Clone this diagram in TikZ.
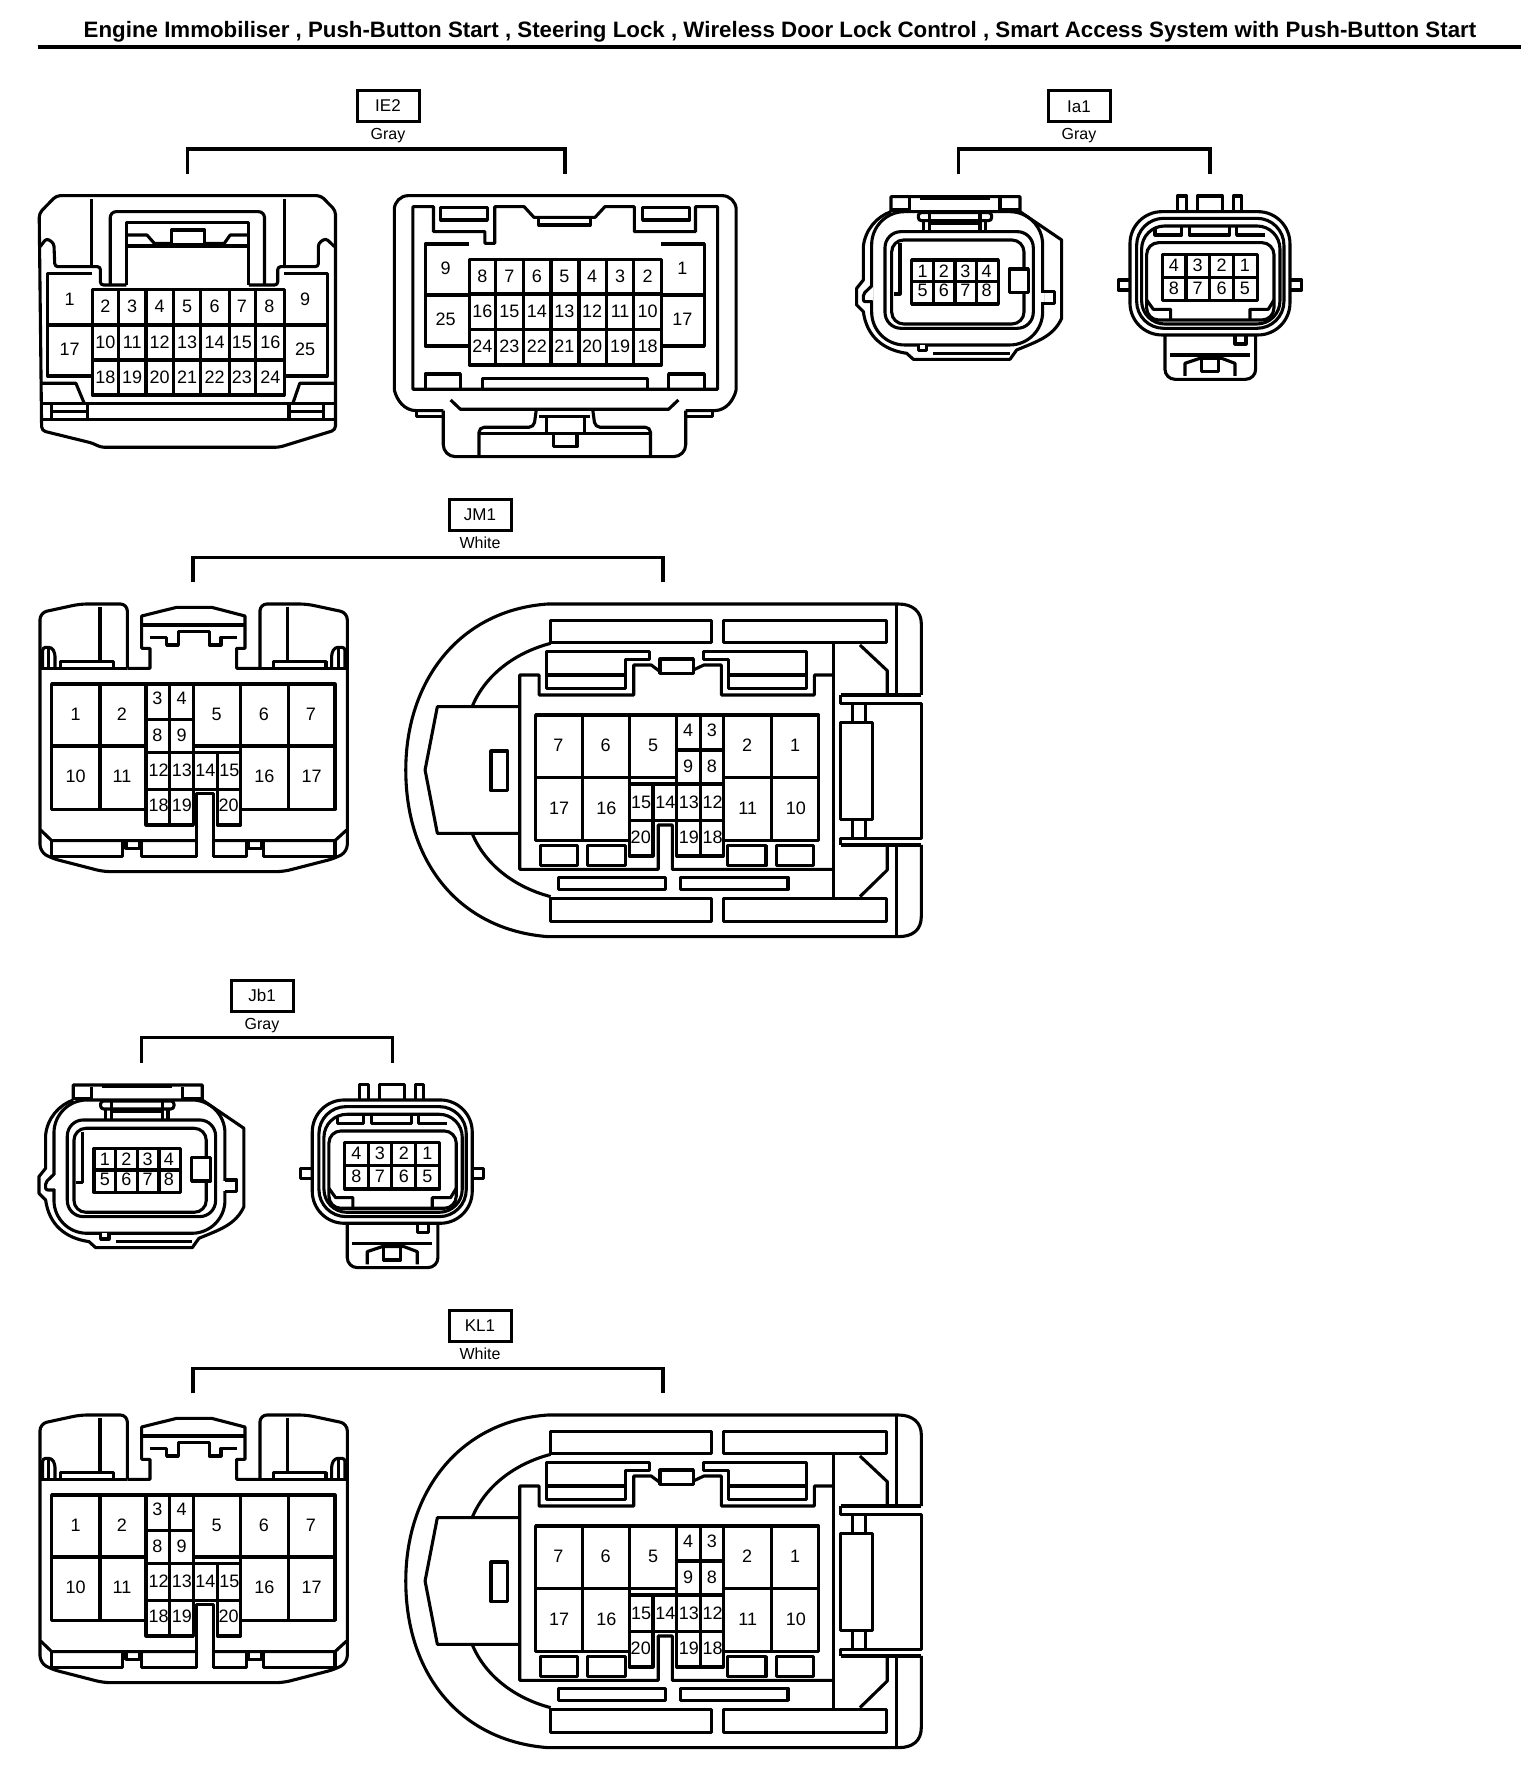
\documentclass[tikz,border=0pt]{standalone}
\usepackage{fontspec}
\setmainfont{Liberation Sans}
\usetikzlibrary{positioning}

\tikzset{
  pin/.style={font=\fontsize{18}{18}\selectfont,inner sep=0pt},
  tagbox/.style={draw,line width=3pt,minimum width=62pt,minimum height=31pt,inner sep=0pt,font=\fontsize{17}{17}\selectfont},
  tagcolor/.style={inner sep=0pt,font=\fontsize{16}{16}\selectfont},
  bracket/.style={draw,line width=3.2pt,line cap=butt},
  part/.style={draw,line width=3.1pt,line join=round},
  wide/.style={x=.4898pt,y=-.3333pt},
  narrow/.style={x=.3333pt,y=-.3333pt},
  mid/.style={x=.3507pt,y=-.3333pt},
  pics/iefront/.style={code={
    \begin{scope}[wide]
      \draw[part,rounded corners=4pt] (80,640) -- (115,587) -- (655,587) -- (685,632) -- (685,1290) -- (570,1342) -- (205,1342) -- (190,1330) -- (85,1292) -- cycle;
      \draw[part] (187,597) -- (187,800);
      \draw[part] (580,597) -- (580,800);
      \draw[part,rounded corners=3pt] (82,740) -- (95,715) -- (110,730) -- (112,800) -- (205,800) -- (205,855) -- (258,855);
      \draw[part,rounded corners=3pt] (683,740) -- (665,715) -- (650,730) -- (650,800) -- (567,800) -- (567,855) -- (508,855);
      \draw[part,rounded corners=6pt] (225,855) -- (225,635) -- (540,635) -- (540,855);
      \draw[part] (258,855) -- (258,667) -- (508,667) -- (508,855);
      \draw[part] (258,738) -- (508,738);
      \draw[part] (258,705) -- (300,705) -- (315,730) -- (350,730);
      \draw[part] (418,730) -- (458,730) -- (470,705) -- (508,705);
      \draw[part] (350,690) rectangle (418,735);
      % contact block
      \draw[part] (188,868) rectangle (580,1185);
      \draw[part] (188,975) -- (580,975);
      \draw[part] (188,1080) -- (580,1080);
      \draw[part] (242,868) -- (242,1185);
      \draw[part] (298,868) -- (298,1185);
      \draw[part] (354,868) -- (354,1185);
      \draw[part] (410,868) -- (410,1185);
      \draw[part] (468,868) -- (468,1185);
      \draw[part] (522,868) -- (522,1185);
      \draw[part] (188,820) -- (97,820) -- (97,1128) -- (188,1128);
      \draw[part] (580,820) -- (668,820) -- (668,1128) -- (580,1128);
      \draw[part] (97,975) -- (188,975);
      \draw[part] (580,975) -- (668,975);
      \draw[part] (85,1150) -- (155,1150) -- (172,1210);
      \draw[part] (685,1150) -- (612,1150) -- (598,1210);
      \draw[part] (82,1210) -- (685,1210);
      \draw[part] (82,1258) -- (685,1258);
      \draw[part] (105,1210) -- (105,1258);
      \draw[part] (178,1210) -- (178,1258);
      \draw[part] (105,1235) -- (178,1235);
      \draw[part] (590,1210) -- (590,1258);
      \draw[part] (660,1210) -- (660,1258);
      \draw[part] (590,1235) -- (660,1235);
      \node[pin] (p1) at (142,897) {1};
      \node[pin] (p17) at (142,1047) {17};
      \node[pin] (p9) at (623,897) {9};
      \node[pin] (p25) at (623,1047) {25};
      \node[pin] (p2) at (215,918) {2}; \node[pin] (p3) at (270,918) {3}; \node[pin] (p4) at (326,918) {4}; \node[pin] (p5) at (382,918) {5}; \node[pin] (p6) at (438,918) {6}; \node[pin] (p7) at (494,918) {7}; \node[pin] (p8) at (550,918) {8};
      \node[pin] (p10) at (215,1027) {10}; \node[pin] (p11) at (270,1027) {11}; \node[pin] (p12) at (326,1027) {12}; \node[pin] (p13) at (382,1027) {13}; \node[pin] (p14) at (438,1027) {14}; \node[pin] (p15) at (494,1027) {15}; \node[pin] (p16) at (552,1027) {16};
      \node[pin] (p18) at (215,1132) {18}; \node[pin] (p19) at (270,1132) {19}; \node[pin] (p20) at (326,1132) {20}; \node[pin] (p21) at (382,1132) {21}; \node[pin] (p22) at (438,1132) {22}; \node[pin] (p23) at (494,1132) {23}; \node[pin] (p24) at (552,1132) {24};
    \end{scope}
  }},
  pics/ieback/.style={code={
    \begin{scope}[wide]
      \draw[part,rounded corners=14pt] (805,1170) -- (805,587) -- (1503,587) -- (1503,1170);
      \draw[part] (805,1170) .. controls (810,1200) and (825,1232) .. (850,1232) -- (905,1232);
      \draw[part] (1503,1170) .. controls (1498,1200) and (1483,1232) .. (1458,1232) -- (1400,1232);
      \draw[part] (850,1232) -- (850,1250) -- (905,1250);
      \draw[part] (1455,1232) -- (1455,1250) -- (1400,1250);
      \draw[part,rounded corners=12pt] (905,1232) -- (905,1370) -- (1400,1370) -- (1400,1232);
      \draw[part] (843,1168) -- (843,620) -- (885,620) -- (885,695) -- (990,695) -- (990,730) -- (1010,730) -- (1010,620) -- (1070,620) -- (1090,652) -- (1215,652) -- (1235,620) -- (1295,620) -- (1295,695) -- (1420,695) -- (1420,620) -- (1465,620) -- (1465,1168) -- cycle;
      \draw[part] (900,622) rectangle (995,660);
      \draw[part] (1312,622) rectangle (1408,660);
      \draw[part] (1100,652) -- (1100,675) -- (1205,675) -- (1205,652);
      % contact block
      \draw[part] (958,778) rectangle (1350,1095);
      \draw[part] (958,882) -- (1350,882);
      \draw[part] (958,988) -- (1350,988);
      \draw[part] (1012,778) -- (1012,1095);
      \draw[part] (1068,778) -- (1068,1095);
      \draw[part] (1125,778) -- (1125,1095);
      \draw[part] (1182,778) -- (1182,1095);
      \draw[part] (1238,778) -- (1238,1095);
      \draw[part] (1294,778) -- (1294,1095);
      \draw[part] (958,732) -- (868,732) -- (868,1038) -- (958,1038);
      \draw[part] (1350,732) -- (1438,732) -- (1438,1038) -- (1350,1038);
      \draw[part] (868,885) -- (958,885);
      \draw[part] (1350,885) -- (1438,885);
      \draw[part] (868,1168) -- (868,1122) -- (940,1122) -- (940,1168);
      \draw[part] (1365,1168) -- (1365,1122) -- (1438,1122) -- (1438,1168);
      \draw[part] (985,1168) -- (985,1135) -- (1322,1135) -- (1322,1168);
      \draw[part] (920,1200) -- (940,1228) -- (1365,1228) -- (1385,1200);
      \draw[part,rounded corners=5pt] (1095,1228) -- (1090,1282) -- (978,1282) -- (978,1370);
      \draw[part,rounded corners=5pt] (1210,1228) -- (1215,1282) -- (1328,1282) -- (1328,1370);
      \draw[part] (978,1300) -- (1328,1300);
      \draw[part] (1100,1250) -- (1205,1250);
      \draw[part] (1115,1250) -- (1115,1300);
      \draw[part] (1193,1250) -- (1193,1300);
      \draw[part] (1130,1300) -- (1130,1340) -- (1178,1340) -- (1178,1300);
      \node[pin] (p9) at (910,805) {9};
      \node[pin] (p25) at (910,958) {25};
      \node[pin] (p1) at (1393,805) {1};
      \node[pin] (p17) at (1393,958) {17};
      \node[pin] (p8) at (985,828) {8}; \node[pin] (p7) at (1040,828) {7}; \node[pin] (p6) at (1096,828) {6}; \node[pin] (p5) at (1152,828) {5}; \node[pin] (p4) at (1209,828) {4}; \node[pin] (p3) at (1266,828) {3}; \node[pin] (p2) at (1322,828) {2};
      \node[pin] (p16) at (985,935) {16}; \node[pin] (p15) at (1040,935) {15}; \node[pin] (p14) at (1096,935) {14}; \node[pin] (p13) at (1152,935) {13}; \node[pin] (p12) at (1209,935) {12}; \node[pin] (p11) at (1266,935) {11}; \node[pin] (p10) at (1322,935) {10};
      \node[pin] (p24) at (985,1040) {24}; \node[pin] (p23) at (1040,1040) {23}; \node[pin] (p22) at (1096,1040) {22}; \node[pin] (p21) at (1152,1040) {21}; \node[pin] (p20) at (1209,1040) {20}; \node[pin] (p19) at (1266,1040) {19}; \node[pin] (p18) at (1322,1040) {18};
    \end{scope}
  }},
  pics/smallfront/.style={code={
    \begin{scope}[narrow]
      \draw[part] (213,425) -- (213,380) -- (600,380) -- (600,425) -- (725,510) -- (725,745) .. controls (700,800) and (650,815) .. (590,840) -- (570,868) -- (280,868) -- (260,850) .. controls (190,840) and (140,800) .. (130,725) -- (110,705) -- (110,655) -- (130,630) -- (130,530) .. controls (135,480) and (170,440) .. (213,425);
      \draw[part] (213,420) -- (268,420) -- (268,385);
      \draw[part] (600,420) -- (540,420) -- (540,385);
      \draw[line width=4pt] (300,384) -- (510,384);
      \draw[part,rounded corners=33pt] (155,425) rectangle (668,825);
      \draw[white,line width=3.4pt] (155,650) -- (155,692);
      \draw[white,line width=3.4pt] (668,668) -- (668,697);
      \draw[part,rounded corners=2pt] (155,648) -- (130,672) -- (130,695) -- (158,695);
      \draw[part] (668,665) -- (703,665) -- (703,700) -- (668,700);
      \draw[part,fill=white] (295,825) -- (295,842) -- (320,842) -- (320,825);
      \draw[part] (340,850) -- (570,850);
      \draw[part,fill=white,rounded corners=3pt] (295,452) -- (295,428) -- (515,428) -- (515,452) -- cycle;
      \draw[part] (310,452) -- (310,485);
      \draw[part] (328,428) -- (328,485);
      \draw[part] (480,428) -- (480,485);
      \draw[part] (497,452) -- (497,485);
      \draw[part] (328,460) -- (480,460);
      \draw[part,fill=white,rounded corners=16pt] (195,485) rectangle (640,775);
      \draw[part,rounded corners=12pt] (215,510) rectangle (612,762);
      \draw[part] (240,520) -- (240,672) -- (222,672);
      \draw[part,fill=white] (612,597) -- (568,597) -- (568,668) -- (625,668) -- (625,597) -- cycle;
      \draw[part] (275,570) rectangle (535,702);
      \draw[part] (275,635) -- (535,635);
      \draw[part] (340,570) -- (340,702);
      \draw[part] (405,570) -- (405,702);
      \draw[part] (470,570) -- (470,702);
      \node[pin] (p1) at (308,603) {1}; \node[pin] (p2) at (372,603) {2}; \node[pin] (p3) at (436,603) {3}; \node[pin] (p4) at (500,603) {4};
      \node[pin] (p5) at (308,662) {5}; \node[pin] (p6) at (372,662) {6}; \node[pin] (p7) at (436,662) {7}; \node[pin] (p8) at (500,662) {8};
    \end{scope}
  }},
  pics/smallback/.style={code={
    \begin{scope}[narrow]
      \draw[part] (1072,425) -- (1072,378) -- (1100,378) -- (1100,425);
      \draw[part] (1132,425) -- (1132,378) -- (1207,378) -- (1207,425);
      \draw[part] (1240,425) -- (1240,378) -- (1265,378) -- (1265,425);
      \draw[part] (930,630) -- (895,630) -- (895,660) -- (930,660);
      \draw[part] (1410,630) -- (1445,630) -- (1445,660) -- (1410,660);
      \draw[part,rounded corners=10pt] (1035,795) -- (1035,928) -- (1307,928) -- (1307,795);
      \draw[part] (1050,855) -- (1290,855);
      \draw[part] (1245,795) -- (1245,822) -- (1278,822) -- (1278,795);
      \draw[part] (1095,918) -- (1095,880) -- (1140,865) -- (1205,865) -- (1245,880) -- (1245,918);
      \draw[part] (1145,868) -- (1145,905) -- (1195,905) -- (1195,868);
      \draw[part,fill=white,rounded corners=32pt] (930,425) rectangle (1410,795);
      \draw[part,rounded corners=27pt] (950,445) rectangle (1392,775);
      \draw[part,rounded corners=23pt] (965,468) rectangle (1380,762);
      \draw[part] (1005,472) -- (1005,495) -- (1085,495) -- (1085,470);
      \draw[part] (1108,470) -- (1108,495) -- (1228,495) -- (1228,470);
      \draw[part] (1250,470) -- (1250,495) -- (1335,495);
      \draw[part,rounded corners=12pt] (980,518) rectangle (1362,750);
      \draw[part] (980,690) -- (1000,718) -- (1052,718) -- (1052,750);
      \draw[part] (1362,690) -- (1345,718) -- (1290,718) -- (1290,750);
      \draw[part] (1028,553) rectangle (1312,692);
      \draw[part] (1028,622) -- (1312,622);
      \draw[part] (1098,553) -- (1098,692);
      \draw[part] (1168,553) -- (1168,692);
      \draw[part] (1240,553) -- (1240,692);
      \node[pin] (p4) at (1062,585) {4}; \node[pin] (p3) at (1133,585) {3}; \node[pin] (p2) at (1205,585) {2}; \node[pin] (p1) at (1275,585) {1};
      \node[pin] (p8) at (1062,655) {8}; \node[pin] (p7) at (1133,655) {7}; \node[pin] (p6) at (1205,655) {6}; \node[pin] (p5) at (1275,655) {5};
    \end{scope}
  }},
  pics/bigfront/.style={code={
    \begin{scope}[narrow]
      \draw[part,rounded corners=7pt] (322,535) -- (322,342) -- (180,342) -- (60,368) -- (60,1085) -- (95,1105) -- (250,1145) -- (790,1145) -- (945,1105) -- (982,1085) -- (982,368) -- (860,342) -- (720,342) -- (720,535);
      \draw[part] (322,535) -- (390,535) -- (390,475) -- (365,475) -- (365,378) -- (470,352) -- (575,352) -- (675,378) -- (675,475) -- (650,475) -- (650,535) -- (720,535);
      \draw[part] (365,405) -- (675,405);
      \draw[part] (390,442) -- (440,442) -- (440,465) -- (475,465) -- (475,425) -- (568,425) -- (568,465) -- (603,465) -- (603,442) -- (652,442);
      \draw[part] (240,350) -- (240,515);
      \draw[part] (803,350) -- (803,515);
      \draw[part] (60,535) -- (322,535);
      \draw[part] (720,535) -- (982,535);
      \draw[part,rounded corners=3pt] (68,535) -- (68,472) -- (95,472) -- (105,490) -- (105,535);
      \draw[part] (85,475) -- (85,535);
      \draw[part,rounded corners=3pt] (975,535) -- (975,472) -- (945,472) -- (935,490) -- (935,535);
      \draw[part] (955,475) -- (955,535);
      \draw[part] (122,535) -- (122,515) -- (280,515) -- (280,535);
      \draw[part] (760,535) -- (760,515) -- (918,515) -- (918,535);
      % contact block
      \draw[part] (378,768) -- (95,768) -- (95,582) -- (945,582) -- (945,958) -- (662,958);
      \draw[part] (378,958) -- (95,958) -- (95,768);
      \draw[part] (240,582) -- (240,958);
      \draw[part] (378,582) -- (378,1005) -- (520,1005) -- (520,788);
      \draw[part] (448,582) -- (448,1005);
      \draw[part] (520,582) -- (520,788);
      \draw[part] (378,688) -- (520,688);
      \draw[part] (378,788) -- (662,788);
      \draw[part] (378,898) -- (662,898);
      \draw[part] (662,582) -- (662,1005) -- (592,1005) -- (592,788);
      \draw[part] (520,768) -- (945,768);
      \draw[part] (805,582) -- (805,958);
      \draw[part] (530,1100) -- (530,910) -- (580,910) -- (580,1100);
      \draw[part] (62,1020) -- (95,1052) -- (530,1052);
      \draw[part] (580,1052) -- (945,1052) -- (980,1020);
      \draw[part] (95,1052) -- (95,1100) -- (308,1100) -- (308,1052);
      \draw[part] (365,1052) -- (365,1100) -- (530,1100);
      \draw[part] (580,1100) -- (680,1100) -- (680,1052);
      \draw[part] (730,1052) -- (730,1100) -- (945,1100) -- (945,1052);
      \draw[part] (318,1052) -- (318,1075) -- (358,1075) -- (358,1052);
      \draw[part] (685,1052) -- (685,1075) -- (725,1075) -- (725,1052);
      \node[pin] (p1) at (167,672) {1}; \node[pin] (p2) at (306,672) {2}; \node[pin] (p5) at (590,672) {5}; \node[pin] (p6) at (732,672) {6}; \node[pin] (p7) at (873,672) {7};
      \node[pin] (p3) at (412,625) {3}; \node[pin] (p4) at (485,625) {4};
      \node[pin] (p8) at (412,735) {8}; \node[pin] (p9) at (485,735) {9};
      \node[pin] (p10) at (167,858) {10}; \node[pin] (p11) at (306,858) {11}; \node[pin] (p16) at (733,858) {16}; \node[pin] (p17) at (875,858) {17};
      \node[pin] (p12) at (416,842) {12}; \node[pin] (p13) at (486,842) {13}; \node[pin] (p14) at (556,842) {14}; \node[pin] (p15) at (628,842) {15};
      \node[pin] (p18) at (416,947) {18}; \node[pin] (p19) at (486,947) {19}; \node[pin] (p20) at (626,947) {20};
    \end{scope}
  }},
  pics/bigback/.style={code={
    \begin{scope}[mid]
      \draw[part] (1515,345) -- (1515,130) .. controls (1515,95) and (1490,72) .. (1450,72) -- (450,72) .. controls (200,90) and (45,300) .. (45,570) .. controls (45,850) and (200,1050) .. (450,1070) -- (1450,1070) .. controls (1490,1070) and (1515,1050) .. (1515,1010) -- (1515,795);
      \draw[part] (1285,345) -- (1515,345);
      \draw[part] (1285,795) -- (1515,795);
      \draw[part] (1285,345) -- (1285,370) -- (1515,370) -- (1515,775) -- (1285,775) -- (1285,795);
      \draw[part] (1445,72) -- (1445,345);
      \draw[part] (1445,795) -- (1445,1070);
      \draw[part] (458,190) .. controls (350,220) and (270,290) .. (235,378);
      \draw[part] (235,762) .. controls (270,850) and (350,920) .. (458,950);
      \draw[part] (365,380) -- (135,380) -- (100,570) -- (135,760) -- (365,760);
      \draw[part] (288,513) rectangle (335,632);
      \draw[part] (458,122) rectangle (918,187);
      \draw[part] (950,122) rectangle (1415,187);
      \draw[part] (458,955) rectangle (918,1025);
      \draw[part] (950,955) rectangle (1415,1025);
      \draw[part] (1265,285) -- (1210,285) -- (1210,345) -- (945,345) -- (945,255) -- (895,255) -- (865,270);
      \draw[part] (770,275) -- (745,255) -- (695,255) -- (695,345) -- (425,345) -- (425,285) -- (370,285) -- (370,868) -- (765,868) -- (765,735) -- (805,735) -- (805,868) -- (1265,868);
      \draw[part] (770,237) rectangle (865,280);
      \draw[part] (445,215) -- (740,215) -- (740,238) -- (672,238) -- (672,325) -- (445,325) -- cycle;
      \draw[part] (445,285) -- (672,285);
      \draw[part] (893,215) -- (1188,215) -- (1188,325) -- (965,325) -- (965,238) -- (893,238) -- cycle;
      \draw[part] (965,285) -- (1188,285);
      \draw[part] (1265,190) -- (1265,950);
      \draw[part] (1340,195) -- (1418,272) -- (1418,345);
      \draw[part] (1340,950) -- (1418,870) -- (1418,795);
      \draw[part] (1285,428) rectangle (1375,718);
      \draw[part] (1320,370) -- (1320,428);
      \draw[part] (1355,370) -- (1355,428);
      \draw[part] (1320,718) -- (1320,775);
      \draw[part] (1355,718) -- (1355,775);
      % contact block
      \draw[part] (682,782) -- (415,782) -- (415,405) -- (1222,405) -- (1222,782) -- (950,782);
      \draw[part] (415,592) -- (818,592);
      \draw[part] (950,592) -- (1222,592);
      \draw[part] (548,405) -- (548,782);
      \draw[part] (682,405) -- (682,828) -- (750,828) -- (750,612);
      \draw[part] (1088,405) -- (1088,782);
      \draw[part] (682,612) -- (950,612);
      \draw[part] (818,405) -- (818,828) -- (950,828) -- (950,405);
      \draw[part] (885,405) -- (885,828);
      \draw[part] (818,510) -- (950,510);
      \draw[part] (682,722) -- (950,722);
      \draw[part] (430,797) rectangle (535,857);
      \draw[part] (563,797) rectangle (672,857);
      \draw[part] (962,797) rectangle (1072,857);
      \draw[part] (1102,797) rectangle (1208,857);
      \draw[part] (480,892) rectangle (785,928);
      \draw[part] (828,892) rectangle (1135,928);
      \node[pin] (p7) at (480,495) {7}; \node[pin] (p6) at (615,495) {6}; \node[pin] (p5) at (750,495) {5}; \node[pin] (p2) at (1018,495) {2}; \node[pin] (p1) at (1155,495) {1};
      \node[pin] (p4) at (850,450) {4}; \node[pin] (p3) at (918,450) {3};
      \node[pin] (p9) at (850,560) {9}; \node[pin] (p8) at (918,560) {8};
      \node[pin] (p17) at (482,685) {17}; \node[pin] (p16) at (617,685) {16}; \node[pin] (p11) at (1020,685) {11}; \node[pin] (p10) at (1157,685) {10};
      \node[pin] (p15) at (716,667) {15}; \node[pin] (p14) at (785,667) {14}; \node[pin] (p13) at (852,667) {13}; \node[pin] (p12) at (920,667) {12};
      \node[pin] (p20) at (715,772) {20}; \node[pin] (p19) at (852,772) {19}; \node[pin] (p18) at (920,772) {18};
    \end{scope}
  }}
}

\begin{document}
\begin{tikzpicture}[x=1pt,y=-1pt]
   \useasboundingbox (0,0) rectangle (1536,1782);
   \node[inner sep=0pt,font=\bfseries\fontsize{22.3}{22.3}\selectfont] (title) at (780,32) {Engine Immobiliser , Push-Button Start , Steering Lock , Wireless Door Lock Control , Smart Access System with Push-Button Start};
   \coordinate (ruleL) at (37.5,47);
   \coordinate (ruleR) at (1521,47);
   \draw[line width=4.6pt] (ruleL) -- (ruleR);

   % IE2
   \node[tagbox] (IE2) at (388,106) {IE2};
   \node[tagcolor] (IE2c) [below=5pt of IE2] {Gray};
   \coordinate (IE2a) at (187.7,174);
   \coordinate (IE2b) at (565,174);
   \draw[bracket] (IE2a) |- (376,149) -| (IE2b);
   \pic (IEf) at (0,0) {iefront};
   \pic (IEb) at (0,0) {ieback};

   % Ia1
   \node[tagbox] (Ia1) at (1079,106.3) {Ia1};
   \node[tagcolor] (Ia1c) [below=5pt of Ia1] {Gray};
   \coordinate (Ia1a) at (958.3,174);
   \coordinate (Ia1b) at (1210,174);
   \draw[bracket] (Ia1a) |- (1084,149) -| (Ia1b);
   \begin{scope}[shift={(820,70)}]
     \pic (Iaf) at (0,0) {smallfront};
     \pic (Iab) at (0,0) {smallback};
   \end{scope}

   % JM1
   \node[tagbox] (JM1) at (480,515) {JM1};
   \node[tagcolor] (JM1c) [below=5pt of JM1] {White};
   \coordinate (JM1a) at (193,582.3);
   \coordinate (JM1b) at (663,582.3);
   \draw[bracket] (JM1a) |- (428,557.5) -| (JM1b);
   \begin{scope}[shift={(20,490)}]
     \pic (JMf) at (0,0) {bigfront};
   \end{scope}
   \begin{scope}[shift={(390,580)}]
     \pic (JMb) at (0,0) {bigback};
   \end{scope}

   % Jb1
   \node[tagbox] (Jb1) at (262,995.7) {Jb1};
   \node[tagcolor] (Jb1c) [below=5pt of Jb1] {Gray};
   \coordinate (Jb1a) at (141.7,1062.7);
   \coordinate (Jb1b) at (392.7,1062.7);
   \draw[bracket] (Jb1a) |- (268,1037.7) -| (Jb1b);
   \begin{scope}[shift={(2.3,958.3)}]
     \pic (Jbf) at (0,0) {smallfront};
     \pic (Jbb) at (0,0) {smallback};
   \end{scope}

   % KL1
   \node[tagbox] (KL1) at (480,1325.5) {KL1};
   \node[tagcolor] (KL1c) [below=5pt of KL1] {White};
   \coordinate (KL1a) at (193,1393.3);
   \coordinate (KL1b) at (663,1393.3);
   \draw[bracket] (KL1a) |- (428,1368.5) -| (KL1b);
   \begin{scope}[shift={(20,1301)}]
     \pic (KLf) at (0,0) {bigfront};
   \end{scope}
   \begin{scope}[shift={(390,1391)}]
     \pic (KLb) at (0,0) {bigback};
   \end{scope}
\end{tikzpicture}
\end{document}
